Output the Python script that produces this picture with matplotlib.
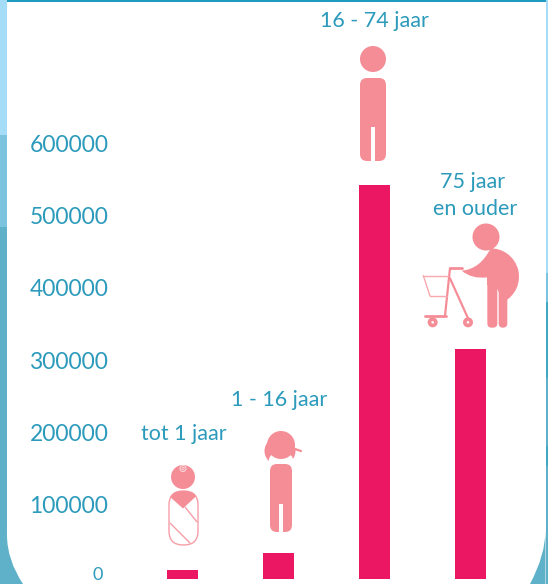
import numpy as np
from matplotlib import pyplot as plt
from matplotlib.patches import Circle, Ellipse, FancyBboxPatch, PathPatch, Rectangle, Wedge
from matplotlib.path import Path
from matplotlib.transforms import ScaledTranslation

categories = ["tot 1 jaar", "1 - 16 jaar", "16 - 74 jaar", "75 jaar \nen ouder"]
values = [12500, 36000, 545000, 318000]
y_ticks = [0, 100000, 200000, 300000, 400000, 500000, 600000]

BLUE = "#2b9abb"
RED = "#ec1763"
PINK = "#f58d97"
W, H = 548, 584

plt.rcParams["font.family"] = ["Lato", "DejaVu Sans"]
fig = plt.figure(figsize=(W / 100, H / 100), dpi=100, facecolor="white")


def px_box(x0, y0, x1, y1):
    return [x0 / W, 1 - y1 / H, (x1 - x0) / W, (y1 - y0) / H]


# grafiek: 96 px per categorie, 72.33 px per 100000
ax = fig.add_axes(px_box(118, 0, W, H))
ax.patch.set_alpha(0)
x = np.arange(len(categories))
ax.bar(x, values, width=31 / 96, color=RED)
ax.set_xlim((118 - 182.5) / 96, (W - 182.5) / 96)
ax.set_ylim(-5 / 72.33 * 100000, 579 / 72.33 * 100000)
ax.set_xticks([])
ax.set_yticks(y_ticks)
ax.set_yticklabels([str(t) for t in y_ticks], color=BLUE, fontsize=16.5)
ax.tick_params(axis="y", length=0, pad=7)
up = ScaledTranslation(0, 2 / 100, fig.dpi_scale_trans)
up_zero = ScaledTranslation(-5 / 100, 5 / 100, fig.dpi_scale_trans)  # de 0 is klein en hoort vrij van de rand
for t, lab in zip(y_ticks, ax.get_yticklabels()):
    lab.set_transform(lab.get_transform() + (up_zero if t == 0 else up))
    if t == 0:
        lab.set_fontsize(13)
for s in ax.spines.values():
    s.set_visible(False)

# decoratie in pixelcoordinaten
deco = fig.add_axes([0, 0, 1, 1], zorder=3)
deco.set_xlim(0, W)
deco.set_ylim(H, 0)
deco.axis("off")

# randen
for y0, y1, c in [(0, 135, "#a5dcf8"), (135, 227, "#7cc3df"), (227, H, "#5fb1c9")]:
    deco.add_patch(Rectangle((0, y0), 7, y1 - y0, color=c, lw=0))
for y0, y1, c in [(0, 273, "#a5dcf8"), (273, 302, "#7cc3df"), (302, 378, "#3fa9c5"),
                  (378, 446, "#5fb1c9"), (446, 466, "#3fa9c5"), (466, H, "#5fb1c9")]:
    deco.add_patch(Rectangle((545.5, y0), W - 545.5, y1 - y0, color=c, lw=0))
deco.add_patch(Rectangle((7, 0), 539, 1.5, color="#1f9bc0", lw=0))
deco.add_patch(PathPatch(Path([(7, 535), (7, 560), (23, 584), (7, 584), (7, 535)],
                              [1, 3, 3, 2, 79]), color="#5fb1c9", lw=0))
deco.add_patch(PathPatch(Path([(545.5, 530), (545.5, 555), (530, 584), (545.5, 584), (545.5, 530)],
                              [1, 3, 3, 2, 79]), color="#5fb1c9", lw=0))

# labels boven de staven
for cx, cy, t in [(183.5, 434, categories[0]), (279.5, 400, categories[1]),
                  (374.5, 21, categories[2]), (475, 195.5, categories[3])]:
    deco.text(cx, cy, t, color=BLUE, fontsize=15.5, ha="center", va="center",
              linespacing=1.45)


def person(x0, x1, y0, y1, slit0, slit1, slit_top):
    deco.add_patch(FancyBboxPatch((x0 + 5, y0 + 5), x1 - x0 - 10, y1 - y0 - 10,
                                  boxstyle="round,pad=5,rounding_size=7", fc=PINK, lw=0))
    deco.add_patch(Rectangle((slit0, slit_top), slit1 - slit0, y1 - slit_top + 1, fc="white", lw=0))


# volwassene
deco.add_patch(Circle((373, 59), 13, fc=PINK, lw=0))
person(360, 386, 78, 161, 371, 374.5, 127)

# kind
deco.add_patch(Ellipse((280, 451), 31, 29, fc=PINK, lw=0))
deco.add_patch(Ellipse((281, 462), 25, 22, fc="white", lw=0))
deco.add_patch(Rectangle((262, 465), 40, 6, fc="white", lw=0))
deco.add_patch(Circle((281, 445), 14, fc=PINK, lw=0))
deco.plot([292, 301], [448, 451], color=PINK, lw=1.6, solid_capstyle="round")
person(270, 292, 464, 532, 279, 283, 504)

# baby
deco.add_patch(Circle((183, 477), 12, fc=PINK, lw=0))
deco.add_patch(Circle((183, 468.5), 3, fc="none", ec="#fbd5d8", lw=0.8))
deco.add_patch(Circle((183, 468.5), 1.2, fc="none", ec="#fbd5d8", lw=0.6))
body = FancyBboxPatch((183, 505), 1, 26, boxstyle="round,pad=14,rounding_size=14",
                      fc="white", ec="none", lw=0)
deco.add_patch(body)
wedge = deco.fill([160, 183, 205, 205, 160], [488, 508.5, 488, 480, 480], color=PINK, lw=0)[0]
wedge.set_clip_path(body)
for xs, ys in [([185, 197], [507, 522]), ([170, 190], [523, 543])]:
    deco.plot(xs, ys, color=PINK, lw=1.0, alpha=0.85, solid_capstyle="butt")
deco.add_patch(FancyBboxPatch((183, 505), 1, 26, boxstyle="round,pad=14,rounding_size=14",
                              fc="none", ec=PINK, lw=1.0, alpha=0.85))


# oudere met rollator, punten uit de uitsnede (3x vergroot vanaf 400,160)
def zx(v):
    return 400 + np.asarray(v) / 3


def zy(v):
    return 160 + np.asarray(v) / 3


deco.add_patch(Circle((zx(258), zy(231)), 13.5, fc=PINK, lw=0))
deco.add_patch(Wedge((zx(272), zy(350)), 85 / 3, -90, 62, fc=PINK, lw=0))
arm = [(185, 332), (240, 328), (272, 265), (280, 350), (262, 352), (215, 358), (185, 332)]
deco.add_patch(PathPatch(Path([(zx(a), zy(b)) for a, b in arm], [1, 3, 3, 2, 2, 3, 3]), fc=PINK, lw=0))
for a, b in [(262, 292), (296, 322)]:
    deco.add_patch(FancyBboxPatch((zx(a) + 4, zy(350) + 4), (b - a) / 3 - 8, (503 - 350) / 3 - 8,
                                  boxstyle="round,pad=4,rounding_size=4.3", fc=PINK, lw=0))
deco.add_patch(Rectangle((zx(262), zy(345)), 20, 10, fc=PINK, lw=0))

LINE = "#f9a8af"
for xs, ys, lw in [([150, 185], [325, 325], 2.0), ([150, 135], [325, 467], 1.6),
                   ([150, 205], [355, 477], 1.6), ([75, 137], [467, 467], 2.0),
                   ([70, 145], [347, 347], 1.0), ([70, 90], [347, 408], 1.0),
                   ([90, 140], [408, 408], 1.0)]:
    deco.plot(zx(xs), zy(ys), color=PINK if lw > 1 else LINE, lw=lw, solid_capstyle="round")
for wx in [98, 204]:
    deco.add_patch(Circle((zx(wx), zy(487)), 5, fc=PINK, lw=0))
    deco.add_patch(Circle((zx(wx), zy(487)), 1.3, fc="white", lw=0))

fig.savefig("out.png", dpi=100)
